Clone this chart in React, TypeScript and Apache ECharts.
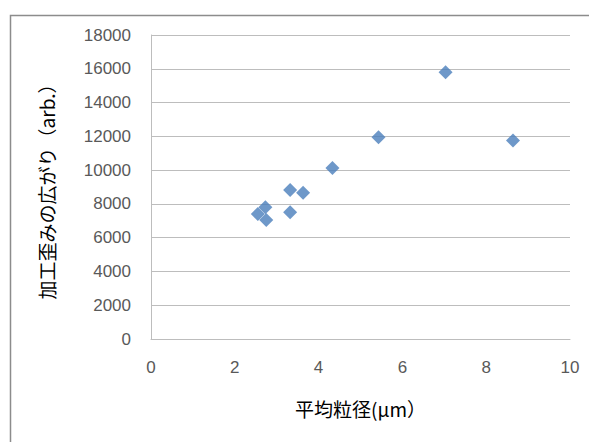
import React, { useEffect, useRef } from "react";
import * as echarts from "echarts";

const particleSize = [2.55, 2.73, 2.75, 3.32, 3.32, 3.63, 4.33, 5.43, 7.03, 8.64];
const strainSpread = [7400, 7800, 7050, 8820, 7500, 8660, 10130, 11950, 15800, 11750];
const xAxisName = "平均粒径(μm）";
const yAxisName = "加工歪みの広がり（arb.）";

export default function App() {
  const ref = useRef<HTMLDivElement>(null);
  useEffect(() => {
    document.body.style.margin = "0";
    const chart = echarts.init(ref.current!, null, { renderer: "svg" });
    const data = particleSize.map((x, i) => [x, strainSpread[i]]);
    chart.setOption({
      animation: false,
      backgroundColor: "#ffffff",
      graphic: [
        {
          type: "rect",
          shape: { x: 10.5, y: 15.5, width: 700, height: 600 },
          style: { fill: "none", stroke: "#8c8c8c", lineWidth: 1.5 },
          silent: true,
        },
      ],
      grid: { left: 151, top: 35, right: 19, bottom: 103, containLabel: false },
      xAxis: {
        type: "value",
        min: 0,
        max: 10,
        interval: 2,
        name: xAxisName,
        nameLocation: "middle",
        nameGap: 60,
        nameTextStyle: {
          fontFamily: "Noto Sans CJK JP",
          fontSize: 19,
          fontWeight: "normal",
          color: "#000000",
        },
        axisLine: { show: true, lineStyle: { color: "#bdbdbd", width: 1 } },
        axisTick: { show: false },
        splitLine: { show: false },
        axisLabel: {
          margin: 20,
          fontFamily: "Liberation Sans",
          fontSize: 17,
          color: "#595959",
          formatter: (v: number) => String(v),
        },
      },
      yAxis: {
        type: "value",
        min: 0,
        max: 18000,
        interval: 2000,
        name: yAxisName,
        nameLocation: "middle",
        nameGap: 95,
        nameRotate: 90,
        nameTextStyle: {
          fontFamily: "Noto Sans CJK JP",
          fontSize: 19,
          fontWeight: "normal",
          color: "#000000",
        },
        axisLine: { show: true, lineStyle: { color: "#bdbdbd", width: 1 } },
        axisTick: { show: false },
        splitLine: { show: true, lineStyle: { color: "#bdbdbd", width: 1 } },
        axisLabel: {
          margin: 20,
          fontFamily: "Liberation Sans",
          fontSize: 17,
          color: "#595959",
          formatter: (v: number) => String(v),
        },
      },
      series: [
        {
          type: "scatter",
          data,
          symbol: "diamond",
          symbolSize: [14, 14],
          itemStyle: { color: "#4a7ebb" },
        },
      ],
    });
    return () => chart.dispose();
  }, []);
  return <div ref={ref} style={{ width: 589, height: 442 }} />;
}
